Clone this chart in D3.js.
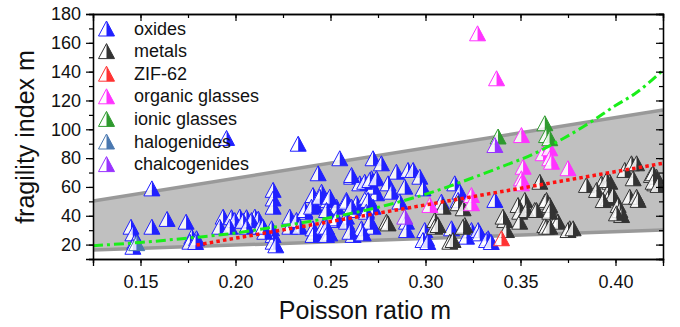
<!DOCTYPE html>
<html>
<head>
<meta charset="utf-8">
<script src="https://cdn.jsdelivr.net/npm/d3@7"></script>
<style>
  body { margin: 0; background: #fff; }
  svg { display: block; }
</style>
</head>
<body>
<div class="fragilityChart"></div>
<script>
// Data: [Poisson ratio, fragility index]
const oxides = [
  [0.156,59],[0.145,32.4],[0.146,27.8],[0.147,22],[0.146,18.5],[0.156,32.4],[0.164,37.8],[0.174,35.9],
  [0.177,25.5],[0.176,22],[0.1795,24.4],[0.179,21.8],
  [0.1953,94],[0.233,90],[0.2435,69.5],[0.2198,58],[0.2198,52],[0.2198,46.3],
  [0.1935,39.4],[0.1979,39],[0.2023,39.4],[0.2058,39],[0.2102,39.4],[0.212,38],
  [0.1996,37],[0.204,36.5],[0.2084,37],[0.1917,32.4],[0.197,32.4],[0.2058,32.4],[0.2128,32.4],
  [0.2198,26.7],[0.2198,22],[0.219,31.3],[0.2212,19.5],
  [0.2408,54.4],[0.2417,47.5],[0.2453,56.7],[0.2365,42.8],[0.233,33.6],[0.2286,32.4],[0.2154,28.9],
  [0.2145,32.4],[0.2417,28.9],[0.2286,39.4],[0.2321,37.1],[0.2365,44],[0.24,46.3],[0.2444,53.2],
  [0.2487,51],[0.2532,46.3],[0.2338,32.4],[0.2408,31.3],[0.2461,32.4],[0.2532,37.1],[0.2584,39.4],
  [0.2637,44],[0.2689,44],[0.2408,26.7],[0.2496,27.8],[0.2619,26.7],[0.2663,31.3],[0.2724,32.4],
  [0.2584,51],[0.2637,48.7],[0.2689,53.2],[0.2742,55.6],[0.2724,46.3],[0.2724,60.2],
  [0.2611,67.1],[0.2654,62.5],[0.268,63.6],[0.2716,66],
  [0.2549,79.9],[0.2724,79.9],[0.2768,76.4],[0.2611,68.3],[0.2847,70.6],[0.2908,71.8],[0.2935,71.8],
  [0.297,67.1],[0.2707,64.8],[0.2742,66],[0.2803,62.5],[0.2891,60.2],[0.2821,56.7],[0.2987,59],
  [0.2496,53.2],[0.2584,49.8],[0.2698,51],[0.2865,49.8],[0.2479,44],[0.2611,46.3],[0.2689,42.8],
  [0.2532,38.2],[0.2584,35.9],[0.2707,35.9],[0.29,35.9],[0.2479,32.4],[0.2602,28.9],[0.2672,27.8],
  [0.29,30.1],[0.2996,30.1],[0.3005,24.4],[0.2479,26.7],
  [0.3154,62.5],[0.3181,56.7],[0.3365,51],[0.3084,49.8],[0.3137,31.3],[0.3242,30.1],[0.3277,30.1],
  [0.333,24.4],[0.3216,25.5],[0.3172,51],[0.3286,27.8],[0.3321,23.2],[0.2987,23.2],[0.3012,21.8],
  [0.3346,21.8]
]
const metals = [
  [0.2795,35.9],[0.3049,37.1],[0.3049,32.4],[0.3093,46.3],[0.3172,48.7],[0.3198,45.2],[0.3523,51],
  [0.3487,47.5],[0.3628,49.8],[0.3496,42.8],[0.3575,44],[0.3654,44],[0.3417,37.1],[0.3496,35.9],
  [0.3628,33.6],[0.3426,30.1],[0.3066,33.6],[0.3207,33.6],[0.3128,22],[0.3145,23.2],[0.3198,32.4],
  [0.3408,39.4],[0.3532,44],[0.3584,44],[0.3637,51],[0.3689,37.1],[0.3637,32.4],[0.3759,31.3],
  [0.3602,63.6],[0.2803,34.7],[0.3698,35.9],[0.375,30.1],[0.3777,31.3],[0.3654,47.5],[0.3654,42.8],
  [0.3654,32.4],
  [0.3847,61.4],[0.3926,62.5],[0.3944,59],[0.397,63.6],[0.3961,56.7],[0.3961,52.1],[0.3987,54.4],
  [0.4014,47.5],[0.4023,44],[0.4032,40.5],[0.4049,71.8],[0.4084,76.4],[0.4111,76.4],[0.4093,66],
  [0.4075,53.2],[0.4111,53.2],[0.4189,68.3],[0.4207,62.5],[0.4216,67.1],[0.39,57.9],[0.3953,64.8],
  [0.3935,50.9],[0.4005,41.7],[0.4198,69.5],[0.4198,63.6],[0.4224,61.4],[0.4119,51]
]
const zif62 = [[0.34,24.4]]
const organic = [
  [0.3274,166.6],[0.3374,135.4],[0.3505,96],[0.3619,83.4],[0.3654,86.8],[0.3654,79.9],[0.3663,77.5],
  [0.375,73],[0.3514,74],[0.3505,66],[0.3505,62.5],[0.3242,54.4],[0.3242,48.7],[0.3023,47.5]
]
const ionic = [[0.3382,95],[0.3628,104.2],[0.3637,96],[0.3654,93.8]]
const halogenides = [[0.148,21]]
const chalcogenides = [[0.3365,89.1],[0.2891,39.4]]

const seriesNames = ["oxides", "metals", "ZIF-62", "organic glasses", "ionic glasses", "halogenides", "chalcogenides"]
const seriesData = [oxides, metals, zif62, organic, ionic, halogenides, chalcogenides]
const seriesColors = ["#2020ff", "#333333", "#ff3333", "#ff33ff", "#2e9a2e", "#4a78b0", "#9933ff"]

// grey band edges, and the two fit curves
const bandX = [0.125, 0.425]
const bandUpper = [50.2, 113.4]
const bandLower = [16.2, 30.1]
const greenX = [0.125, 0.15, 0.175, 0.20, 0.215, 0.245, 0.28, 0.305, 0.32, 0.34, 0.357, 0.366, 0.373, 0.387, 0.40, 0.41, 0.425]
const greenY = [19.2, 21.5, 24.5, 28, 31, 37.5, 47.5, 57, 64, 74, 83, 89, 94, 105, 116.5, 124.5, 141]
const redX = [0.1795, 0.425]
const redY = [19.7, 76.4]

const xTicks = [0.15, 0.20, 0.25, 0.30, 0.35, 0.40]
const yTicks = [20, 40, 60, 80, 100, 120, 140, 160, 180]

function fragilityChart() {
  const width = 680
  const height = 327
  const margin = {left: 93, right: 17, top: 14, bottom: 68}

  const x = d3.scaleLinear().domain([0.125, 0.425]).range([margin.left, width - margin.right])
  const y = d3.scaleLinear().domain([10, 180]).range([height - margin.bottom, margin.top])

  const canvas = d3.select(".fragilityChart").append("svg")
    .attr("width", width)
    .attr("height", height)
    .style("font-family", "Liberation Sans, Arial, sans-serif")

  canvas.append("clipPath").attr("id", "plotClip")
    .append("rect")
    .attr("x", margin.left).attr("y", margin.top)
    .attr("width", width - margin.left - margin.right)
    .attr("height", height - margin.top - margin.bottom)

  const plot = canvas.append("g").attr("clip-path", "url(#plotClip)")

  // band
  const bandPts = bandX.map((d, i) => [d, bandUpper[i]])
    .concat(bandX.map((d, i) => [d, bandLower[i]]).reverse())
  plot.append("path")
    .attr("d", d3.line().x(d => x(d[0])).y(d => y(d[1]))(bandPts) + "Z")
    .attr("fill", "#c0c0c0")

  const edge = d3.line().x(d => x(d[0])).y(d => y(d[1]))
  ;[bandUpper, bandLower].forEach(function(edgeY) {
    plot.append("path")
      .attr("d", edge(bandX.map((d, i) => [d, edgeY[i]])))
      .attr("fill", "none")
      .attr("stroke", "#999999")
      .attr("stroke-width", 3.5)
  })

  // triangle marker, left half white, right half coloured
  const half = 8
  const tall = 7.5
  function marker(sel, color) {
    sel.append("path")
      .attr("d", "M0," + (-tall) + "L0," + tall + "L" + (-half) + "," + tall + "Z")
      .attr("fill", "#ffffff").attr("fill-opacity", 0.85)
    sel.append("path")
      .attr("d", "M0," + (-tall) + "L" + half + "," + tall + "L0," + tall + "Z")
      .attr("fill", color)
    sel.append("path")
      .attr("d", "M0," + (-tall) + "L" + half + "," + tall + "L" + (-half) + "," + tall + "Z")
      .attr("fill", "none")
      .attr("stroke", color)
      .attr("stroke-width", 1)
  }

  // Legends
  const legend = canvas.append("g")
  seriesNames.forEach(function(name, i) {
    const row = legend.append("g")
      .attr("transform", "translate(" + 106.5 + "," + (28.5 + i * 22.6) + ")")
    marker(row, seriesColors[i])
    row.append("text")
      .attr("x", 27.5)
      .attr("y", 6)
      .style("font-size", "18px")
      .attr("fill", "#111")
      .text(name)
  })

  // points
  seriesData.forEach(function(data, i) {
    plot.selectAll(".pt" + i)
      .data(data)
      .enter()
      .append("g")
      .attr("class", "pt" + i)
      .attr("transform", d => "translate(" + x(d[0]) + "," + y(d[1]) + ")")
      .each(function() { marker(d3.select(this), seriesColors[i]) })
  })

  // fit lines
  plot.append("path")
    .attr("d", d3.line().curve(d3.curveMonotoneX).x(d => x(d[0])).y(d => y(d[1]))(greenX.map((d, i) => [d, greenY[i]])))
    .attr("fill", "none")
    .attr("stroke", "#1aee1a")
    .attr("stroke-width", 3)
    .attr("stroke-dasharray", "10,4,3,4")

  plot.append("path")
    .attr("d", d3.line().x(d => x(d[0])).y(d => y(d[1]))(redX.map((d, i) => [d, redY[i]])))
    .attr("fill", "none")
    .attr("stroke", "#ff1010")
    .attr("stroke-width", 3.5)
    .attr("stroke-dasharray", "3.5,3.2")

  // axes
  const bottom = height - margin.bottom
  const right = width - margin.right
  const minorX = d3.range(0.125, 0.4251, 0.025)
  const minorY = d3.range(10, 180.1, 10)

  function styleAxis(g) {
    g.select(".domain").attr("stroke", "#000").attr("stroke-width", 1.3)
    g.selectAll(".tick line").attr("stroke", "#000").attr("stroke-width", 1.2)
    g.selectAll("text").style("font-size", "18px").attr("fill", "#111").style("font-family", "Liberation Sans, Arial, sans-serif")
  }

  canvas.append("g").attr("transform", "translate(0," + bottom + ")")
    .call(d3.axisBottom(x).tickValues(minorX).tickSize(4).tickFormat(""))
    .call(styleAxis)
  canvas.append("g").attr("transform", "translate(0," + bottom + ")")
    .call(d3.axisBottom(x).tickValues(xTicks).tickSize(7).tickPadding(9).tickFormat(d3.format(".2f")))
    .call(styleAxis)

  canvas.append("g").attr("transform", "translate(0," + margin.top + ")")
    .call(d3.axisTop(x).tickValues(minorX).tickSize(-4).tickFormat(""))
    .call(styleAxis)
  canvas.append("g").attr("transform", "translate(0," + margin.top + ")")
    .call(d3.axisTop(x).tickValues(xTicks).tickSize(-7).tickFormat(""))
    .call(styleAxis)

  canvas.append("g").attr("transform", "translate(" + margin.left + ",0)")
    .call(d3.axisLeft(y).tickValues(minorY).tickSize(4).tickFormat(""))
    .call(styleAxis)
  canvas.append("g").attr("transform", "translate(" + margin.left + ",0)")
    .call(d3.axisLeft(y).tickValues(yTicks).tickSize(7).tickPadding(5).tickFormat(d3.format("d")))
    .call(styleAxis)

  canvas.append("g").attr("transform", "translate(" + right + ",0)")
    .call(d3.axisRight(y).tickValues(minorY).tickSize(-4).tickFormat(""))
    .call(styleAxis)
  canvas.append("g").attr("transform", "translate(" + right + ",0)")
    .call(d3.axisRight(y).tickValues(yTicks).tickSize(-7).tickFormat(""))
    .call(styleAxis)

  // titles
  canvas.append("text")
    .attr("transform", "translate(" + 34 + "," + 137 + ") rotate(-90)")
    .style("text-anchor", "middle")
    .style("font-size", "25px")
    .attr("fill", "#111")
    .text("fragility index m")

  canvas.append("text")
    .attr("x", 365)
    .attr("y", 319)
    .style("text-anchor", "middle")
    .style("font-size", "25px")
    .attr("fill", "#111")
    .text("Poisson ratio m")
}

fragilityChart()
</script>
</body>
</html>
